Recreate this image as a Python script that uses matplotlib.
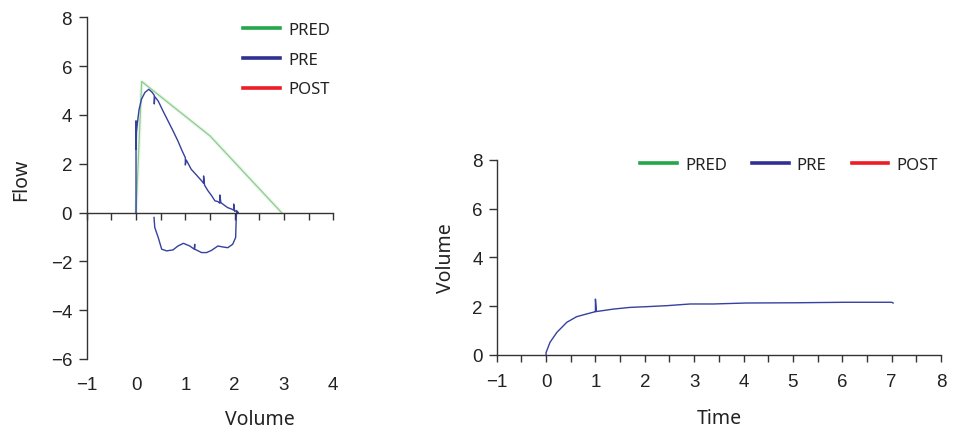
import numpy as np
import matplotlib
matplotlib.use("Agg")
import matplotlib.pyplot as plt
from matplotlib.lines import Line2D

# ---------------- data ----------------
series_names = ["PRED", "PRE", "POST"]
series_colors = ["#22a84a", "#2e3192", "#ee1c25"]

# Flow-Volume loop
pred_volume = [0.0, 0.115, 1.5, 2.95]
pred_flow = [0.0, 5.37, 3.14, 0.0]

pre_exp_volume = [0.0, 0.0, 0.0, 0.01, 0.03, 0.06, 0.11, 0.18, 0.26, 0.33, 0.37, 0.37,
                  0.38, 0.45, 0.55, 0.65, 0.75, 0.85, 0.93, 1.0, 1.0, 1.02, 1.12, 1.22,
                  1.33, 1.37, 1.37, 1.39, 1.46, 1.53, 1.6, 1.66, 1.7, 1.7, 1.72, 1.79,
                  1.86, 1.93, 1.98, 1.98, 2.0, 2.04, 2.07]
pre_exp_flow = [0.0, 3.75, 2.6, 3.3, 3.7, 4.2, 4.64, 4.92, 5.05, 4.92, 4.8, 4.45,
                4.75, 4.57, 4.15, 3.75, 3.35, 2.93, 2.55, 2.25, 1.95, 2.15, 1.77, 1.55,
                1.3, 1.2, 1.5, 1.12, 0.89, 0.7, 0.48, 0.45, 0.38, 0.72, 0.41, 0.3,
                0.2, 0.15, 0.1, 0.35, 0.05, 0.08, 0.0]

pre_insp_volume = [2.07, 2.04, 2.03, 2.02, 1.96, 1.86, 1.76, 1.66, 1.53, 1.43, 1.33,
                   1.19, 1.19, 1.18, 1.09, 0.96, 0.85, 0.75, 0.62, 0.52, 0.45, 0.38, 0.365]
pre_insp_flow = [0.0, 0.05, -0.34, -1.02, -1.3, -1.44, -1.41, -1.37, -1.55, -1.64, -1.64,
                 -1.5, -1.3, -1.5, -1.37, -1.26, -1.37, -1.53, -1.57, -1.5, -1.02, -0.61, -0.2]

post_volume = []
post_flow = []

# Volume-Time curve
pre_time = [0.0, 0.0, 0.08, 0.22, 0.42, 0.62, 0.82, 0.99, 1.0, 1.0, 1.02, 1.36, 1.7,
            2.04, 2.44, 2.92, 3.39, 4.06, 5.08, 6.09, 7.0, 7.03]
pre_time_volume = [0.0, 0.1, 0.52, 0.93, 1.34, 1.57, 1.68, 1.77, 1.77, 2.29, 1.78, 1.88,
                   1.95, 1.98, 2.02, 2.09, 2.09, 2.13, 2.14, 2.16, 2.16, 2.13]
post_time = []
post_time_volume = []

left_yticks = [-6, -4, -2, 0, 2, 4, 6, 8]
left_xticks = [-1, 0, 1, 2, 3, 4]
right_yticks = [0, 2, 4, 6, 8]
right_xticks = [-1, 0, 1, 2, 3, 4, 5, 6, 7, 8]

# ---------------- style ----------------
TICK_FONT = "Liberation Sans"
LABEL_FONT = "Noto Sans"
TICK_FS = 13.5
LABEL_FS = 14
LEG_FS = 12.0
AX_COLOR = "#333333"
TXT_COLOR = "#222222"
PLOT_GREEN = "#8ccd8c"
PLOT_BLUE = "#3640a0"

fig = plt.figure(figsize=(9.58, 4.31), dpi=100)
W, H = 958.0, 431.0


def px_axes(l, t, r, b):
    return fig.add_axes([l / W, 1 - b / H, (r - l) / W, (b - t) / H])


def style_axes(ax):
    for s in ["top", "right"]:
        ax.spines[s].set_visible(False)
    for s in ["left", "bottom"]:
        ax.spines[s].set_color(AX_COLOR)
        ax.spines[s].set_linewidth(1.0)
    ax.tick_params(colors=AX_COLOR, width=1.0, length=5.5, direction="out")
    ax.patch.set_alpha(0)


# ---------------- left: Flow-Volume ----------------
ax1 = px_axes(86.7, 18.3, 333.3, 360.0)
style_axes(ax1)
ax1.plot(pred_volume, pred_flow, color=PLOT_GREEN, lw=2.6, alpha=0.18, solid_capstyle="round")
ax1.plot(pred_volume, pred_flow, color=PLOT_GREEN, lw=0.9)
ax1.plot(pre_exp_volume, pre_exp_flow, color=PLOT_BLUE, lw=1.0)
ax1.plot(pre_insp_volume, pre_insp_flow, color=PLOT_BLUE, lw=1.0)
ax1.plot(post_volume, post_flow, color=series_colors[2], lw=1.0)
ax1.set_xlim(-1, 4)
ax1.set_ylim(-6, 8)
ax1.spines["bottom"].set_position(("data", 0))
ax1.set_xticks(np.arange(-1, 4.01, 0.5))
ax1.tick_params(axis="x", labelbottom=False, length=5)
ax1.set_yticks(left_yticks)
for lab in ax1.get_yticklabels():
    lab.set_fontfamily(TICK_FONT)
    lab.set_fontsize(TICK_FS)
    lab.set_color(TXT_COLOR)
ax1.tick_params(axis="y", pad=5)

sec1 = ax1.secondary_xaxis("bottom")
sec1.spines["bottom"].set_visible(False)
sec1.set_xticks(left_xticks)
sec1.tick_params(length=0, pad=12.5)
for lab in sec1.get_xticklabels():
    lab.set_fontfamily(TICK_FONT)
    lab.set_fontsize(TICK_FS)
    lab.set_color(TXT_COLOR)

ax1.set_ylabel("Flow", fontfamily=LABEL_FONT, fontsize=LABEL_FS, color=TXT_COLOR)
ax1.yaxis.set_label_coords((31 - 86.7) / 246.6, (360 - 180) / 341.7)
ax1.set_xlabel("Volume", fontfamily=LABEL_FONT, fontsize=LABEL_FS, color=TXT_COLOR)
ax1.xaxis.set_label_coords((260 - 86.7) / 246.6, (360 - 410) / 341.7)

handles = [Line2D([], [], color=c, lw=2.6) for c in series_colors]
fig.legend(handles, series_names, loc="upper left",
           bbox_to_anchor=(243 / W, 1 - 23 / H), frameon=False,
           borderpad=0, borderaxespad=0, handlelength=2.2, handletextpad=0.55,
           labelspacing=0.82, prop={"family": LABEL_FONT, "size": LEG_FS},
           labelcolor=TXT_COLOR)

# ---------------- right: Volume-Time ----------------
ax2 = px_axes(496.7, 160.7, 941.0, 356.0)
style_axes(ax2)
ax2.plot(pre_time, pre_time_volume, color=PLOT_BLUE, lw=1.0)
ax2.plot(post_time, post_time_volume, color=series_colors[2], lw=1.0)
ax2.set_xlim(-1, 8)
ax2.set_ylim(0, 8)
ax2.set_xticks(np.arange(-1, 8.01, 0.5))
ax2.tick_params(axis="x", labelbottom=False, length=5)
ax2.set_yticks(right_yticks)
for lab in ax2.get_yticklabels():
    lab.set_fontfamily(TICK_FONT)
    lab.set_fontsize(TICK_FS)
    lab.set_color(TXT_COLOR)
ax2.tick_params(axis="y", pad=4.5)

sec2 = ax2.secondary_xaxis("bottom")
sec2.spines["bottom"].set_visible(False)
sec2.set_xticks(right_xticks)
sec2.tick_params(length=0, pad=13)
for lab in sec2.get_xticklabels():
    lab.set_fontfamily(TICK_FONT)
    lab.set_fontsize(TICK_FS)
    lab.set_color(TXT_COLOR)

ax2.set_ylabel("Volume", fontfamily=LABEL_FONT, fontsize=LABEL_FS, color=TXT_COLOR)
ax2.yaxis.set_label_coords((456 - 496.7) / 444.3, (356 - 258) / 195.3)
ax2.set_xlabel("Time", fontfamily=LABEL_FONT, fontsize=LABEL_FS, color=TXT_COLOR)
ax2.xaxis.set_label_coords(0.5, (356 - 409) / 195.3)

fig.legend(handles, series_names, loc="upper left", ncol=3,
           bbox_to_anchor=(640 / W, 1 - 158 / H), frameon=False,
           borderpad=0, borderaxespad=0, handlelength=2.2, handletextpad=0.5,
           columnspacing=1.5, prop={"family": LABEL_FONT, "size": LEG_FS},
           labelcolor=TXT_COLOR)

fig.savefig("out.png", dpi=100)
